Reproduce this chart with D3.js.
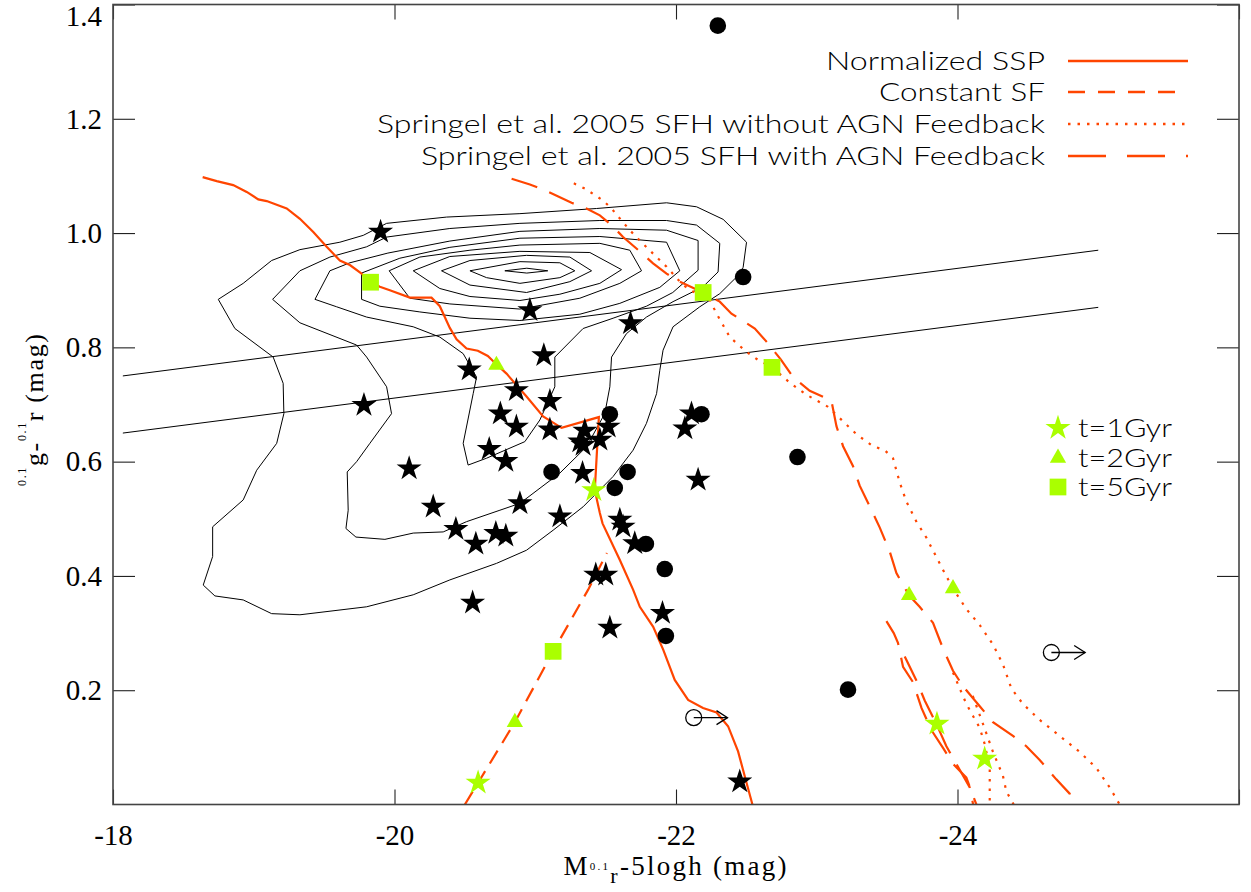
<!DOCTYPE html>
<html><head><meta charset="utf-8">
<script src="https://cdn.jsdelivr.net/npm/d3@7"></script>
<style>body{margin:0;background:#fff}svg{display:block}
.serif{font-family:"Liberation Serif","Times New Roman",serif}
.tick text{font-family:"Liberation Serif","Times New Roman",serif !important}
</style>
</head><body>
<svg id="c" width="1251" height="892"></svg>
<script>
// ---------- DATA ----------
const xTickVals = [-18, -20, -22, -24, -26];
const xTickLabels = ["-18", "-20", "-22", "-24", ""];
const yTickVals = [0.2, 0.4, 0.6, 0.8, 1.0, 1.2, 1.4];
const yTickLabels = ["0.2", "0.4", "0.6", "0.8", "1.0", "1.2", "1.4"];

const legendLabels = ["Normalized SSP", "Constant SF",
  "Springel et al. 2005 SFH without AGN Feedback",
  "Springel et al. 2005 SFH with AGN Feedback"];
const ageLabels = ["t=1Gyr", "t=2Gyr", "t=5Gyr"];

// model tracks [M, g-r]
const sspLine = [[-18.637,1.098],[-18.737,1.091],[-18.854,1.084],[-18.950,1.072],[-19.032,1.059],[-19.092,1.056],[-19.234,1.043],[-19.328,1.025],[-19.423,1.002],[-19.518,0.976],[-19.612,0.952],[-19.683,0.944],[-19.766,0.929],[-19.830,0.914],[-19.896,0.906],[-19.967,0.900],[-20.109,0.887],[-20.263,0.887],[-20.322,0.872],[-20.393,0.834],[-20.441,0.814],[-20.512,0.798],[-20.592,0.794],[-20.663,0.785],[-20.725,0.770],[-20.796,0.754],[-20.938,0.714],[-21.056,0.679],[-21.187,0.659],[-21.452,0.678],[-21.435,0.603],[-21.423,0.550],[-21.459,0.510],[-21.478,0.492],[-21.601,0.428],[-21.695,0.376],[-21.743,0.346],[-21.838,0.311],[-21.909,0.271],[-21.991,0.218],[-22.086,0.183],[-22.192,0.169],[-22.288,0.161],[-22.370,0.137],[-22.441,0.093],[-22.489,0.049],[-22.543,0.0]];
const constSF = [[-20.500,0.0],[-20.594,0.038],[-20.855,0.144],[-21.127,0.268],[-21.376,0.376],[-21.509,0.440]];
const withAGN = [[-20.832,1.095],[-20.962,1.085],[-21.068,1.075],[-21.258,1.053],[-21.364,1.043],[-21.459,1.031],[-21.542,1.014],[-21.624,0.993],[-21.719,0.973],[-21.837,0.947],[-21.933,0.929],[-22.027,0.915],[-22.192,0.896],[-22.311,0.880],[-22.394,0.859],[-22.560,0.833],[-22.643,0.810],[-22.744,0.779],[-22.832,0.748],[-22.950,0.724],[-23.104,0.707],[-23.140,0.662],[-23.187,0.627],[-23.258,0.592],[-23.305,0.558],[-23.388,0.516],[-23.447,0.485],[-23.518,0.443],[-23.566,0.405],[-23.655,0.366],[-23.731,0.346],[-23.826,0.318],[-23.897,0.273],[-23.968,0.234],[-24.039,0.207],[-24.158,0.172],[-24.252,0.144],[-24.394,0.120],[-24.489,0.102],[-24.584,0.078],[-24.702,0.044],[-24.797,0.019],[-24.820,0.0]];
const withAGN2 = [[-23.495,0.321],[-23.547,0.300],[-23.577,0.283],[-23.613,0.241],[-23.684,0.214],[-23.744,0.169],[-23.815,0.130],[-23.897,0.099],[-23.968,0.071],[-24.063,0.047],[-24.134,0.0]];
const withAGN3 = [[-23.625,0.259],[-23.708,0.217],[-23.767,0.182],[-23.850,0.141],[-23.921,0.102],[-23.992,0.071],[-24.087,0.030],[-24.111,0.0]];
const noAGN = [[-21.274,1.087],[-21.352,1.078],[-21.482,1.057],[-21.542,1.043],[-21.613,1.022],[-21.672,1.005],[-21.743,0.987],[-21.837,0.964],[-21.933,0.941],[-22.050,0.909],[-22.146,0.894],[-22.240,0.883],[-22.288,0.859],[-22.382,0.818],[-22.501,0.792],[-22.583,0.778],[-22.684,0.765],[-22.809,0.738],[-22.927,0.717],[-23.080,0.696],[-23.164,0.676],[-23.282,0.648],[-23.400,0.627],[-23.483,0.620],[-23.542,0.606],[-23.589,0.564],[-23.637,0.530],[-23.708,0.495],[-23.779,0.467],[-23.850,0.433],[-23.909,0.405],[-23.968,0.378],[-24.063,0.342],[-24.158,0.314],[-24.252,0.280],[-24.323,0.245],[-24.383,0.203],[-24.465,0.176],[-24.584,0.148],[-24.726,0.120],[-24.868,0.092],[-24.986,0.064],[-25.081,0.030],[-25.152,0.0]];
const noAGN2 = [[-23.968,0.231],[-24.016,0.203],[-24.063,0.176],[-24.110,0.155],[-24.158,0.134],[-24.193,0.106],[-24.229,0.064],[-24.229,0.0]];
const noAGN3 = [[-24.058,0.201],[-24.110,0.189],[-24.181,0.141],[-24.252,0.092],[-24.323,0.050],[-24.347,0.023],[-24.399,0.0]];

// two dividing lines
const divUpper = [[-18.07,0.75],[-25.0,0.97]];
const divLower = [[-18.07,0.65],[-25.0,0.87]];

// density contours
const c1 = [[-18.748,0.884],[-18.925,0.912],[-19.127,0.952],[-19.328,0.971],[-19.612,0.984],[-19.778,0.996],[-19.944,1.017],[-20.370,1.028],[-20.891,1.034],[-21.435,1.043],[-21.933,1.053],[-22.146,1.046],[-22.335,1.024],[-22.501,0.984],[-22.477,0.940],[-22.430,0.923],[-22.311,0.894],[-22.169,0.871],[-21.979,0.836],[-21.908,0.795],[-21.885,0.760],[-21.862,0.719],[-21.790,0.667],[-21.695,0.620],[-21.553,0.574],[-21.340,0.521],[-21.127,0.480],[-20.938,0.445],[-20.725,0.422],[-20.393,0.393],[-20.133,0.367],[-19.802,0.346],[-19.328,0.332],[-19.127,0.334],[-18.925,0.358],[-18.724,0.365],[-18.641,0.384],[-18.708,0.434],[-18.708,0.486],[-18.925,0.533],[-19.021,0.585],[-19.163,0.632],[-19.214,0.684],[-19.209,0.737],[-19.138,0.783],[-18.866,0.833]];
const c2 = [[-19.134,0.884],[-19.328,0.934],[-19.541,0.958],[-19.802,0.976],[-19.944,0.993],[-20.393,1.008],[-20.891,1.017],[-21.459,1.022],[-21.933,1.022],[-22.146,1.014],[-22.311,0.982],[-22.299,0.932],[-22.192,0.906],[-21.979,0.880],[-21.790,0.853],[-21.648,0.824],[-21.542,0.783],[-21.530,0.731],[-21.494,0.684],[-21.364,0.626],[-21.175,0.580],[-20.891,0.527],[-20.749,0.515],[-20.512,0.495],[-20.346,0.477],[-20.133,0.475],[-19.932,0.464],[-19.726,0.468],[-19.655,0.483],[-19.671,0.515],[-19.664,0.582],[-19.731,0.600],[-19.825,0.632],[-19.979,0.684],[-19.944,0.731],[-19.802,0.783],[-19.731,0.804],[-19.328,0.843]];
const c3 = [[-19.541,0.934],[-19.683,0.948],[-19.953,0.965],[-20.393,0.986],[-20.891,1.003],[-21.459,1.008],[-21.933,1.005],[-22.157,0.987],[-22.157,0.935],[-21.977,0.896],[-21.790,0.872],[-21.553,0.851],[-21.340,0.833],[-21.139,0.783],[-21.139,0.731],[-21.033,0.673],[-20.926,0.635],[-20.654,0.606],[-20.523,0.594],[-20.488,0.632],[-20.559,0.719],[-20.583,0.748],[-20.488,0.789],[-20.322,0.818],[-20.133,0.836],[-19.802,0.853],[-19.589,0.871],[-19.435,0.884]];
const c4 = [[-19.766,0.930],[-20.038,0.956],[-20.393,0.975],[-20.891,0.991],[-21.459,0.994],[-21.933,0.984],[-22.027,0.934],[-21.885,0.905],[-21.601,0.877],[-21.317,0.858],[-20.891,0.847],[-20.536,0.851],[-20.180,0.862],[-19.896,0.872],[-19.766,0.884]];
const c5 = [[-19.962,0.934],[-20.180,0.958],[-20.536,0.970],[-20.891,0.979],[-21.459,0.982],[-21.672,0.970],[-21.755,0.934],[-21.601,0.912],[-21.317,0.886],[-20.891,0.867],[-20.393,0.876],[-20.109,0.886]];
const c6 = [[-20.133,0.934],[-20.393,0.959],[-20.891,0.968],[-21.388,0.966],[-21.613,0.936],[-21.459,0.912],[-21.175,0.893],[-20.891,0.882],[-20.536,0.889],[-20.322,0.903]];
const c7 = [[-20.334,0.934],[-20.536,0.952],[-20.938,0.961],[-21.246,0.958],[-21.400,0.934],[-21.246,0.915],[-20.938,0.896],[-20.536,0.909]];
const c8 = [[-20.536,0.934],[-20.891,0.950],[-21.175,0.948],[-21.281,0.934],[-21.175,0.922],[-20.891,0.912],[-20.654,0.922]];
const c9 = [[-20.784,0.934],[-20.940,0.9385],[-21.089,0.934],[-20.940,0.930]];

// observed galaxies
const starGalaxies = [[-19.901,1.002],[-20.531,0.761],[-19.783,0.699],[-20.104,0.588],[-20.275,0.521],[-20.436,0.482],[-20.578,0.456],[-20.720,0.475],[-20.791,0.470],[-20.555,0.353],[-20.673,0.622],[-20.791,0.601],[-20.752,0.684],[-20.866,0.725],[-20.866,0.661],[-20.891,0.527],[-20.962,0.865],[-21.677,0.842],[-21.061,0.786],[-21.104,0.706],[-21.104,0.656],[-21.352,0.654],[-21.317,0.635],[-21.459,0.638],[-21.518,0.661],[-21.340,0.629],[-21.336,0.580],[-21.175,0.504],[-21.601,0.498],[-21.624,0.486],[-21.707,0.457],[-22.110,0.684],[-22.063,0.658],[-22.157,0.568],[-21.430,0.402],[-21.501,0.402],[-21.904,0.335],[-21.530,0.309],[-22.453,0.040]];
const circleGalaxies = [[-22.297,1.363],[-22.477,0.923],[-22.863,0.608],[-23.222,0.201],[-21.530,0.683],[-22.181,0.683],[-21.116,0.582],[-21.656,0.582],[-21.565,0.554],[-21.786,0.456],[-21.920,0.412],[-21.928,0.295]];
const limitGalaxies = [[-22.126,0.152],[-24.667,0.266]];
const arrowLen = 0.24; // mag

// age markers on tracks
const age1Gyr = [[-21.416,0.550],[-20.594,0.038],[-23.854,0.141],[-24.193,0.080]];
const age2Gyr = [[-20.724,0.769],[-20.855,0.144],[-23.656,0.366],[-23.968,0.378]];
const age5Gyr = [[-19.830,0.914],[-21.127,0.268],[-22.193,0.896],[-22.682,0.765]];

// ---------- DRAW ----------
const X0 = 113, X1 = 1239, Y0 = 4.5, Y1 = 804.5;
const RED = "#ff4500", GREEN = "#aaff00";
const x = d3.scaleLinear().domain([-18, -26]).range([X0, X1]);
const y = d3.scaleLinear().domain([0, 1.4]).range([Y1, Y0]);
const svg = d3.select("#c");
svg.append("rect").attr("width", 1251).attr("height", 892).attr("fill", "#fff");
svg.append("defs").append("clipPath").attr("id", "pc").append("rect")
  .attr("x", X0).attr("y", Y0).attr("width", X1 - X0).attr("height", Y1 - Y0);
const plot = svg.append("g").attr("clip-path", "url(#pc)");
const line = d3.line().x(d => x(d[0])).y(d => y(d[1]));
const closed = d3.line().x(d => x(d[0])).y(d => y(d[1])).curve(d3.curveLinearClosed);

[c1, c2, c3, c4, c5, c6, c7, c8, c9].forEach(cn =>
  plot.append("path").attr("d", closed(cn)).attr("fill", "none").attr("stroke", "#000").attr("stroke-width", 1));
[divUpper, divLower].forEach(l =>
  plot.append("path").attr("d", line(l)).attr("fill", "none").attr("stroke", "#000").attr("stroke-width", 1));

const DASH_SHORT = "15,9", DASH_LONG = "27,13", DOT = "2.5,7";
const tracks = [
  [sspLine, null], [constSF, DASH_SHORT],
  [noAGN, DOT], [noAGN2, DOT], [noAGN3, DOT],
  [withAGN, DASH_LONG], [withAGN2, DASH_LONG], [withAGN3, DASH_LONG]];
tracks.forEach(([d, dash]) => {
  const p = plot.append("path").attr("d", line(d)).attr("fill", "none")
    .attr("stroke", RED).attr("stroke-width", 2.2);
  if (dash) p.attr("stroke-dasharray", dash);
});

const starSym = d3.symbol().type(d3.symbolStar).size(195);
const triSym = d3.symbol().type(d3.symbolTriangle).size(115);
const sqSym = d3.symbol().type(d3.symbolSquare).size(280);

plot.selectAll(".gs").data(starGalaxies).join("path")
  .attr("d", starSym).attr("transform", d => `translate(${x(d[0])},${y(d[1])})`).attr("fill", "#000");
plot.selectAll(".gc").data(circleGalaxies).join("circle")
  .attr("cx", d => x(d[0])).attr("cy", d => y(d[1])).attr("r", 8.3).attr("fill", "#000");

limitGalaxies.forEach(d => {
  const cx = x(d[0]), cy = y(d[1]), tx = x(d[0] - arrowLen);
  plot.append("circle").attr("cx", cx).attr("cy", cy).attr("r", 8).attr("fill", "none").attr("stroke", "#000").attr("stroke-width", 1.3);
  plot.append("line").attr("x1", cx).attr("y1", cy).attr("x2", tx).attr("y2", cy).attr("stroke", "#000").attr("stroke-width", 1.3);
  plot.append("path").attr("d", `M${tx - 11},${cy - 7}L${tx},${cy}L${tx - 11},${cy + 7}`).attr("fill", "none").attr("stroke", "#000").attr("stroke-width", 1.3);
});

[[age1Gyr, starSym], [age2Gyr, triSym], [age5Gyr, sqSym]].forEach(([arr, sym]) =>
  arr.forEach(d => plot.append("path").attr("d", sym()).attr("transform", `translate(${x(d[0])},${y(d[1])})`).attr("fill", GREEN)));

// ---------- AXES ----------
const SERIF = "'Liberation Serif','Times New Roman',serif";
const tickFont = g => g.selectAll("text").attr("font-family", SERIF).style("font-family", SERIF).attr("font-size", 29).attr("fill", "#000");
const tickLine = g => { g.select(".domain").remove(); g.selectAll("line").attr("stroke", "#222").attr("stroke-width", 1.1); };

svg.append("g").attr("transform", `translate(0,${Y1})`)
  .call(d3.axisBottom(x).tickValues(xTickVals).tickSizeInner(-15).tickSizeOuter(0).tickPadding(20).tickFormat((d, i) => xTickLabels[i]))
  .call(tickLine).call(tickFont);
svg.append("g").attr("transform", `translate(0,${Y0})`)
  .call(d3.axisTop(x).tickValues(xTickVals).tickSizeInner(-15).tickSizeOuter(0).tickFormat(""))
  .call(tickLine);
const yl = svg.append("g").attr("transform", `translate(${X0},0)`)
  .call(d3.axisLeft(y).tickValues(yTickVals).tickSizeInner(-22).tickSizeOuter(0).tickPadding(11).tickFormat((d, i) => yTickLabels[i]))
  .call(tickLine).call(tickFont);
yl.selectAll(".tick text").filter(d => d === 1.4).attr("dy", "0.72em");
svg.append("g").attr("transform", `translate(${X1},0)`)
  .call(d3.axisRight(y).tickValues(yTickVals).tickSizeInner(-22).tickSizeOuter(0).tickFormat(""))
  .call(tickLine);

svg.append("rect").attr("x", X0).attr("y", Y0).attr("width", X1 - X0).attr("height", Y1 - Y0)
  .attr("fill", "none").attr("stroke", "#444").attr("stroke-width", 1.6);

// axis titles
const xt = svg.append("text").attr("class", "serif").attr("x", 675).attr("y", 875).attr("text-anchor", "middle")
  .attr("font-size", 27).attr("textLength", 223).attr("lengthAdjust", "spacing");
xt.append("tspan").text("M");
xt.append("tspan").attr("font-size", 11).attr("dy", -5).text("0.1");
xt.append("tspan").attr("font-size", 22).attr("dy", 13).text("r");
xt.append("tspan").attr("dy", -8).text("-5logh (mag)");

const yt = svg.append("text").attr("class", "serif").attr("transform", "translate(43,410) rotate(-90)").attr("text-anchor", "middle")
  .attr("font-size", 26).attr("textLength", 152).attr("lengthAdjust", "spacing");
yt.append("tspan").attr("font-size", 12).attr("dy", -17).text("0.1");
yt.append("tspan").attr("dy", 17).text("g-");
yt.append("tspan").attr("font-size", 12).attr("dy", -17).text("0.1");
yt.append("tspan").attr("dy", 17).text("r (mag)");

// ---------- LEGENDS ----------
const LF = "'Lato','DejaVu Sans',sans-serif";
const legY = [61, 92, 124, 156];
const legW = [219, 166, 668, 624];
const legDash = [null, "17,13", "2.5,7", "38,21"];
legendLabels.forEach((t, i) => {
  svg.append("text").attr("x", 1045).attr("y", legY[i] + 8.5).attr("text-anchor", "end")
    .attr("font-family", LF).attr("font-weight", 300).attr("font-size", 25).attr("fill", "#000")
    .attr("textLength", legW[i]).attr("lengthAdjust", "spacingAndGlyphs").text(t);
  const l = svg.append("line").attr("x1", 1068).attr("x2", 1188).attr("y1", legY[i]).attr("y2", legY[i])
    .attr("stroke", RED).attr("stroke-width", 2.4);
  if (legDash[i]) l.attr("stroke-dasharray", legDash[i]);
});
const ageY = [428, 458, 487];
[starSym, triSym, sqSym].forEach((sym, i) => {
  svg.append("path").attr("d", sym()).attr("transform", `translate(1058,${ageY[i]})`).attr("fill", GREEN);
  svg.append("text").attr("x", 1078).attr("y", ageY[i] + 9).attr("font-family", LF).attr("font-weight", 300)
    .attr("font-size", 26).attr("fill", "#000").attr("textLength", 94).attr("lengthAdjust", "spacingAndGlyphs").text(ageLabels[i]);
});
</script>
</body></html>
